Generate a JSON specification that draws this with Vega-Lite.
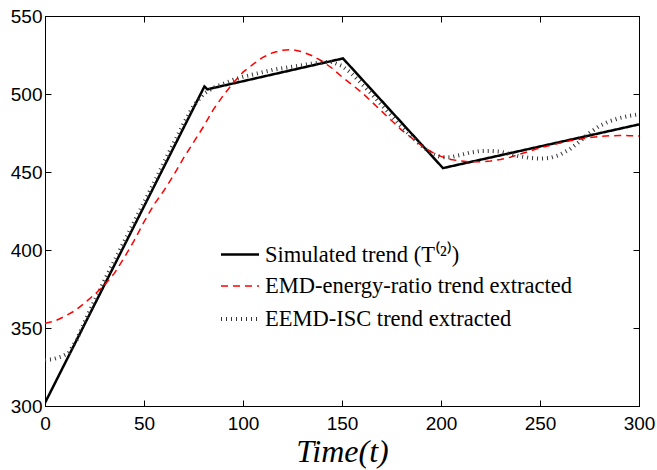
{
  "$schema": "https://vega.github.io/schema/vega-lite/v6.json",
  "autosize": "none",
  "width": 594,
  "height": 390,
  "padding": {"left": 45, "top": 16, "right": 18, "bottom": 64},
  "background": "white",
  "config": {
    "view": {"stroke": "black", "strokeWidth": 1},
    "axis": {
      "grid": false,
      "domainColor": "black",
      "tickColor": "black",
      "labelColor": "black",
      "labelFont": "Liberation Sans",
      "labelFontSize": 19,
      "labelFlush": false,
      "tickSize": -6
    }
  },
  "datasets": {
    "trend": [
      {"s": "Simulated trend (T⁽²⁾)", "t": 0, "v": 302},
      {"s": "Simulated trend (T⁽²⁾)", "t": 80.5, "v": 504.8},
      {"s": "Simulated trend (T⁽²⁾)", "t": 82, "v": 503},
      {"s": "Simulated trend (T⁽²⁾)", "t": 150.5, "v": 522.8},
      {"s": "Simulated trend (T⁽²⁾)", "t": 201, "v": 452.5},
      {"s": "Simulated trend (T⁽²⁾)", "t": 300, "v": 480.5},

      {"s": "EMD-energy-ratio trend extracted", "t": 0, "v": 353},
      {"s": "EMD-energy-ratio trend extracted", "t": 5, "v": 354.5},
      {"s": "EMD-energy-ratio trend extracted", "t": 10, "v": 357.5},
      {"s": "EMD-energy-ratio trend extracted", "t": 15, "v": 361},
      {"s": "EMD-energy-ratio trend extracted", "t": 20, "v": 366},
      {"s": "EMD-energy-ratio trend extracted", "t": 25, "v": 371.5},
      {"s": "EMD-energy-ratio trend extracted", "t": 30, "v": 377.5},
      {"s": "EMD-energy-ratio trend extracted", "t": 35, "v": 385},
      {"s": "EMD-energy-ratio trend extracted", "t": 40, "v": 395},
      {"s": "EMD-energy-ratio trend extracted", "t": 45, "v": 406},
      {"s": "EMD-energy-ratio trend extracted", "t": 50, "v": 418},
      {"s": "EMD-energy-ratio trend extracted", "t": 55, "v": 429},
      {"s": "EMD-energy-ratio trend extracted", "t": 60, "v": 438},
      {"s": "EMD-energy-ratio trend extracted", "t": 65, "v": 448},
      {"s": "EMD-energy-ratio trend extracted", "t": 70, "v": 459},
      {"s": "EMD-energy-ratio trend extracted", "t": 75, "v": 469},
      {"s": "EMD-energy-ratio trend extracted", "t": 80, "v": 479},
      {"s": "EMD-energy-ratio trend extracted", "t": 85, "v": 490},
      {"s": "EMD-energy-ratio trend extracted", "t": 90, "v": 499},
      {"s": "EMD-energy-ratio trend extracted", "t": 95, "v": 507},
      {"s": "EMD-energy-ratio trend extracted", "t": 100, "v": 514},
      {"s": "EMD-energy-ratio trend extracted", "t": 105, "v": 519},
      {"s": "EMD-energy-ratio trend extracted", "t": 110, "v": 523.5},
      {"s": "EMD-energy-ratio trend extracted", "t": 115, "v": 526.5},
      {"s": "EMD-energy-ratio trend extracted", "t": 120, "v": 528},
      {"s": "EMD-energy-ratio trend extracted", "t": 125, "v": 528.5},
      {"s": "EMD-energy-ratio trend extracted", "t": 130, "v": 527},
      {"s": "EMD-energy-ratio trend extracted", "t": 135, "v": 524.5},
      {"s": "EMD-energy-ratio trend extracted", "t": 140, "v": 521},
      {"s": "EMD-energy-ratio trend extracted", "t": 145, "v": 516.5},
      {"s": "EMD-energy-ratio trend extracted", "t": 150, "v": 511},
      {"s": "EMD-energy-ratio trend extracted", "t": 155, "v": 506},
      {"s": "EMD-energy-ratio trend extracted", "t": 160, "v": 501},
      {"s": "EMD-energy-ratio trend extracted", "t": 165, "v": 495},
      {"s": "EMD-energy-ratio trend extracted", "t": 170, "v": 489},
      {"s": "EMD-energy-ratio trend extracted", "t": 175, "v": 483},
      {"s": "EMD-energy-ratio trend extracted", "t": 180, "v": 477},
      {"s": "EMD-energy-ratio trend extracted", "t": 185, "v": 472},
      {"s": "EMD-energy-ratio trend extracted", "t": 190, "v": 467},
      {"s": "EMD-energy-ratio trend extracted", "t": 195, "v": 463},
      {"s": "EMD-energy-ratio trend extracted", "t": 200, "v": 460},
      {"s": "EMD-energy-ratio trend extracted", "t": 205, "v": 458},
      {"s": "EMD-energy-ratio trend extracted", "t": 210, "v": 457},
      {"s": "EMD-energy-ratio trend extracted", "t": 215, "v": 456.5},
      {"s": "EMD-energy-ratio trend extracted", "t": 220, "v": 456.5},
      {"s": "EMD-energy-ratio trend extracted", "t": 225, "v": 457},
      {"s": "EMD-energy-ratio trend extracted", "t": 230, "v": 458},
      {"s": "EMD-energy-ratio trend extracted", "t": 235, "v": 459.5},
      {"s": "EMD-energy-ratio trend extracted", "t": 240, "v": 461.5},
      {"s": "EMD-energy-ratio trend extracted", "t": 245, "v": 463.5},
      {"s": "EMD-energy-ratio trend extracted", "t": 250, "v": 465.5},
      {"s": "EMD-energy-ratio trend extracted", "t": 255, "v": 467},
      {"s": "EMD-energy-ratio trend extracted", "t": 260, "v": 468.5},
      {"s": "EMD-energy-ratio trend extracted", "t": 265, "v": 470},
      {"s": "EMD-energy-ratio trend extracted", "t": 270, "v": 471},
      {"s": "EMD-energy-ratio trend extracted", "t": 275, "v": 472},
      {"s": "EMD-energy-ratio trend extracted", "t": 280, "v": 472.8},
      {"s": "EMD-energy-ratio trend extracted", "t": 285, "v": 473.2},
      {"s": "EMD-energy-ratio trend extracted", "t": 290, "v": 473.4},
      {"s": "EMD-energy-ratio trend extracted", "t": 295, "v": 473.3},
      {"s": "EMD-energy-ratio trend extracted", "t": 300, "v": 473},

      {"s": "EEMD-ISC trend extracted", "t": 0, "v": 329.5},
      {"s": "EEMD-ISC trend extracted", "t": 4, "v": 330},
      {"s": "EEMD-ISC trend extracted", "t": 8, "v": 331.5},
      {"s": "EEMD-ISC trend extracted", "t": 12, "v": 334},
      {"s": "EEMD-ISC trend extracted", "t": 16, "v": 342.5},
      {"s": "EEMD-ISC trend extracted", "t": 20, "v": 354},
      {"s": "EEMD-ISC trend extracted", "t": 25, "v": 367.5},
      {"s": "EEMD-ISC trend extracted", "t": 30, "v": 380.5},
      {"s": "EEMD-ISC trend extracted", "t": 35, "v": 393},
      {"s": "EEMD-ISC trend extracted", "t": 40, "v": 405.5},
      {"s": "EEMD-ISC trend extracted", "t": 45, "v": 418},
      {"s": "EEMD-ISC trend extracted", "t": 50, "v": 430.5},
      {"s": "EEMD-ISC trend extracted", "t": 55, "v": 443},
      {"s": "EEMD-ISC trend extracted", "t": 60, "v": 456},
      {"s": "EEMD-ISC trend extracted", "t": 65, "v": 468.5},
      {"s": "EEMD-ISC trend extracted", "t": 70, "v": 481},
      {"s": "EEMD-ISC trend extracted", "t": 75, "v": 492.5},
      {"s": "EEMD-ISC trend extracted", "t": 80, "v": 500},
      {"s": "EEMD-ISC trend extracted", "t": 85, "v": 504},
      {"s": "EEMD-ISC trend extracted", "t": 90, "v": 506.5},
      {"s": "EEMD-ISC trend extracted", "t": 95, "v": 509},
      {"s": "EEMD-ISC trend extracted", "t": 100, "v": 511},
      {"s": "EEMD-ISC trend extracted", "t": 105, "v": 512.5},
      {"s": "EEMD-ISC trend extracted", "t": 110, "v": 514},
      {"s": "EEMD-ISC trend extracted", "t": 115, "v": 515.5},
      {"s": "EEMD-ISC trend extracted", "t": 120, "v": 516.5},
      {"s": "EEMD-ISC trend extracted", "t": 125, "v": 517.5},
      {"s": "EEMD-ISC trend extracted", "t": 130, "v": 518.5},
      {"s": "EEMD-ISC trend extracted", "t": 135, "v": 519.5},
      {"s": "EEMD-ISC trend extracted", "t": 140, "v": 520.5},
      {"s": "EEMD-ISC trend extracted", "t": 145, "v": 520.5},
      {"s": "EEMD-ISC trend extracted", "t": 150, "v": 518},
      {"s": "EEMD-ISC trend extracted", "t": 155, "v": 513},
      {"s": "EEMD-ISC trend extracted", "t": 160, "v": 506.5},
      {"s": "EEMD-ISC trend extracted", "t": 165, "v": 500},
      {"s": "EEMD-ISC trend extracted", "t": 170, "v": 493},
      {"s": "EEMD-ISC trend extracted", "t": 175, "v": 486},
      {"s": "EEMD-ISC trend extracted", "t": 180, "v": 479},
      {"s": "EEMD-ISC trend extracted", "t": 185, "v": 473},
      {"s": "EEMD-ISC trend extracted", "t": 190, "v": 467},
      {"s": "EEMD-ISC trend extracted", "t": 195, "v": 462},
      {"s": "EEMD-ISC trend extracted", "t": 200, "v": 459.5},
      {"s": "EEMD-ISC trend extracted", "t": 205, "v": 459.5},
      {"s": "EEMD-ISC trend extracted", "t": 210, "v": 461},
      {"s": "EEMD-ISC trend extracted", "t": 215, "v": 462.5},
      {"s": "EEMD-ISC trend extracted", "t": 220, "v": 463.5},
      {"s": "EEMD-ISC trend extracted", "t": 225, "v": 463.5},
      {"s": "EEMD-ISC trend extracted", "t": 230, "v": 463},
      {"s": "EEMD-ISC trend extracted", "t": 235, "v": 461.5},
      {"s": "EEMD-ISC trend extracted", "t": 240, "v": 460},
      {"s": "EEMD-ISC trend extracted", "t": 245, "v": 459},
      {"s": "EEMD-ISC trend extracted", "t": 250, "v": 458.5},
      {"s": "EEMD-ISC trend extracted", "t": 255, "v": 459},
      {"s": "EEMD-ISC trend extracted", "t": 260, "v": 461},
      {"s": "EEMD-ISC trend extracted", "t": 265, "v": 464.5},
      {"s": "EEMD-ISC trend extracted", "t": 270, "v": 469.5},
      {"s": "EEMD-ISC trend extracted", "t": 275, "v": 475},
      {"s": "EEMD-ISC trend extracted", "t": 280, "v": 479.5},
      {"s": "EEMD-ISC trend extracted", "t": 285, "v": 482.5},
      {"s": "EEMD-ISC trend extracted", "t": 290, "v": 484.5},
      {"s": "EEMD-ISC trend extracted", "t": 295, "v": 486},
      {"s": "EEMD-ISC trend extracted", "t": 300, "v": 487}
    ]
  },
  "data": {"name": "trend"},
  "layer": [
    {
      "mark": {"type": "line", "clip": true},
      "encoding": {
        "x": {
          "field": "t", "type": "quantitative",
          "scale": {"domain": [0, 300], "nice": false},
          "axis": {
            "orient": "bottom",
            "values": [0, 50, 100, 150, 200, 250, 300],
            "labelPadding": 14,
            "title": "Time(t)",
            "titleFont": "Liberation Serif",
            "titleFontStyle": "italic",
            "titleFontWeight": "normal",
            "titleFontSize": 32,
            "titleColor": "black",
            "titlePadding": 3
          }
        },
        "y": {
          "field": "v", "type": "quantitative",
          "scale": {"domain": [300, 550], "nice": false, "zero": false},
          "axis": {
            "orient": "left",
            "values": [300, 350, 400, 450, 500, 550],
            "labelPadding": 9,
            "title": null
          }
        },
        "color": {
          "field": "s", "type": "nominal",
          "scale": {
            "domain": ["Simulated trend (T⁽²⁾)", "EMD-energy-ratio trend extracted", "EEMD-ISC trend extracted"],
            "range": ["#000000", "#ff0000", "#333333"]
          },
          "legend": {
            "orient": "none",
            "legendX": 174,
            "legendY": 218,
            "title": null,
            "symbolType": "stroke",
            "symbolSize": 1444,
            "labelFont": "Liberation Serif",
            "labelFontSize": 22.5,
            "labelColor": "black",
            "labelOffset": 4,
            "rowPadding": -4.5,
            "labelLimit": 500
          }
        },
        "strokeDash": {
          "field": "s", "type": "nominal",
          "scale": {
            "domain": ["Simulated trend (T⁽²⁾)", "EMD-energy-ratio trend extracted", "EEMD-ISC trend extracted"],
            "range": [[1, 0], [7, 5], [1, 4]]
          },
          "legend": null
        },
        "strokeWidth": {
          "field": "s", "type": "nominal",
          "scale": {
            "type": "ordinal",
            "domain": ["Simulated trend (T⁽²⁾)", "EMD-energy-ratio trend extracted", "EEMD-ISC trend extracted"],
            "range": [2.5, 1.5, 4]
          },
          "legend": null
        }
      }
    },
    {
      "mark": {"type": "point", "opacity": 0},
      "encoding": {
        "x": {
          "field": "t", "type": "quantitative",
          "axis": {"orient": "top", "values": [0, 50, 100, 150, 200, 250, 300], "labels": false, "title": null}
        },
        "y": {
          "field": "v", "type": "quantitative",
          "axis": {"orient": "right", "values": [300, 350, 400, 450, 500, 550], "labels": false, "title": null}
        }
      }
    }
  ]
}
